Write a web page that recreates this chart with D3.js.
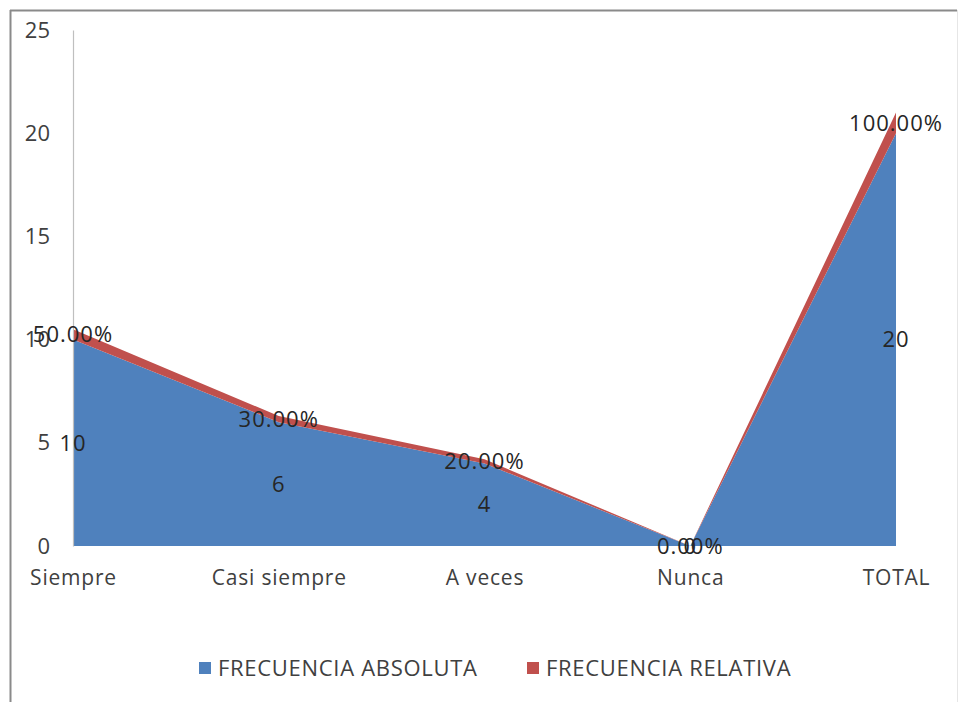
<!DOCTYPE html>
<html>
<head>
<meta charset="utf-8">
<script src="https://cdn.jsdelivr.net/npm/d3@7/dist/d3.min.js"></script>
<style>
  html, body { margin: 0; padding: 0; background: #fff; }
  svg { display: block; }
  text { font-family: "Open Sans", Lato, sans-serif; }
</style>
</head>
<body>
<svg id="chart" width="961" height="702"></svg>
<script>
const categories = ["Siempre", "Casi siempre", "A veces", "Nunca", "TOTAL"];
const absoluta = [10, 6, 4, 0, 20];
const relativa = [0.5, 0.3, 0.2, 0, 1.0];
const relativaLabels = ["50.00%", "30.00%", "20.00%", "0.00%", "100.00%"];
const yTicks = [0, 5, 10, 15, 20, 25];
const seriesNames = ["FRECUENCIA ABSOLUTA", "FRECUENCIA RELATIVA"];
const colors = ["#4F81BD", "#C0504D"];

const svg = d3.select("#chart");

// frame
svg.append("line").attr("x1", 10).attr("x2", 957).attr("y1", 10.5).attr("y2", 10.5)
  .attr("stroke", "#8a8a8a").attr("stroke-width", 2);
svg.append("line").attr("x1", 10.5).attr("x2", 10.5).attr("y1", 10).attr("y2", 702)
  .attr("stroke", "#8a8a8a").attr("stroke-width", 2);
svg.append("line").attr("x1", 957.5).attr("x2", 957.5).attr("y1", 10).attr("y2", 702)
  .attr("stroke", "#e6e6e6").attr("stroke-width", 1);

const x = d3.scalePoint().domain(categories).range([73, 896]);
const y = d3.scaleLinear().domain([0, 25]).range([546, 30]);

const rows = categories.map((c, i) => ({ cat: c, abs: absoluta[i], rel: relativa[i] }));
const stacked = d3.stack().keys(["abs", "rel"])(rows);

const area = d3.area()
  .x(d => x(d.data.cat))
  .y0(d => y(d[0]))
  .y1(d => y(d[1]));

svg.append("g").selectAll("path").data(stacked).join("path")
  .attr("d", area)
  .attr("fill", (d, i) => colors[i]);

// y axis
const yAxis = d3.axisLeft(y).tickValues(yTicks).tickSize(0).tickPadding(23);
const gy = svg.append("g").attr("transform", `translate(${x(categories[0])},0)`).call(yAxis);
gy.select(".domain").attr("stroke", "#bfbfbf").attr("stroke-width", 1.2);
gy.selectAll("text").attr("font-size", 22).attr("fill", "#404040")
  .attr("font-family", "'Open Sans', sans-serif");

// x axis labels
const xAxis = d3.axisBottom(x).tickSize(0).tickPadding(24);
const gx = svg.append("g").attr("transform", `translate(0,${y(0)})`).call(xAxis);
gx.select(".domain").remove();
gx.selectAll("text").attr("font-size", 21).attr("fill", "#404040")
  .attr("font-family", "'Open Sans', sans-serif").attr("letter-spacing", 0.8);

// data labels
const lbl = svg.append("g").attr("font-size", 22).attr("fill", "#262626")
  .attr("text-anchor", "middle").attr("letter-spacing", 1);
stacked[0].forEach((d, i) => {
  lbl.append("text").attr("x", x(d.data.cat)).attr("y", y((d[0] + d[1]) / 2))
    .attr("dy", "0.35em").text(absoluta[i]);
});
stacked[1].forEach((d, i) => {
  lbl.append("text").attr("x", x(d.data.cat)).attr("y", y((d[0] + d[1]) / 2))
    .attr("dy", "0.35em").text(relativaLabels[i]);
});

// legend
const legendX = [199, 527];
const lg = svg.append("g");
seriesNames.forEach((n, i) => {
  lg.append("rect").attr("x", legendX[i]).attr("y", 662).attr("width", 12).attr("height", 12)
    .attr("fill", colors[i]);
  lg.append("text").attr("x", legendX[i] + 19).attr("y", 668).attr("dy", "0.35em")
    .attr("font-size", 22).attr("letter-spacing", 0.7).attr("fill", "#404040").text(n);
});
</script>
</body>
</html>
